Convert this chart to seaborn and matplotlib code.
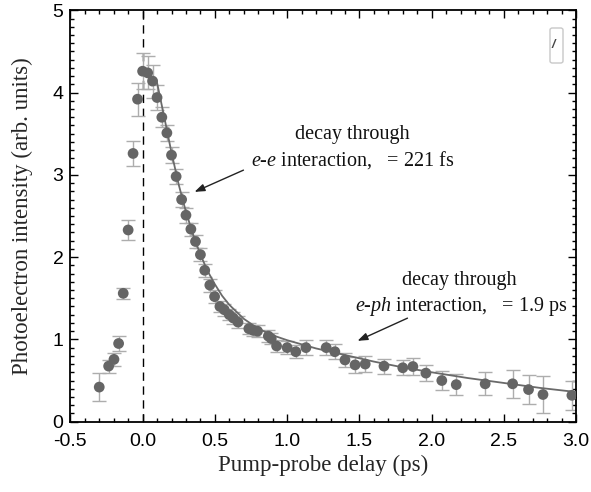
import matplotlib
matplotlib.use("Agg")
import matplotlib.pyplot as plt
from matplotlib.patches import FancyBboxPatch
from matplotlib.ticker import MultipleLocator
import seaborn as sns
import pandas as pd

# measured points: delay (ps), intensity (arb. units), error
delay = [-0.30, -0.235, -0.198, -0.166, -0.134, -0.10, -0.066, -0.035, 0.0, 0.035,
         0.069, 0.10, 0.133, 0.168, 0.20, 0.232, 0.27, 0.30, 0.334, 0.366,
         0.40, 0.43, 0.465, 0.498, 0.535, 0.565, 0.60, 0.627, 0.66, 0.735,
         0.765, 0.795, 0.87, 0.89, 0.927, 1.0, 1.06, 1.13, 1.27, 1.33,
         1.40, 1.47, 1.54, 1.67, 1.80, 1.87, 1.96, 2.07, 2.17, 2.37,
         2.56, 2.67, 2.77, 2.97]
intensity = [0.42, 0.675, 0.757, 0.95, 1.56, 2.33, 3.26, 3.92, 4.26, 4.24,
             4.14, 3.94, 3.70, 3.51, 3.24, 2.98, 2.70, 2.51, 2.34, 2.19,
             2.03, 1.84, 1.66, 1.52, 1.40, 1.36, 1.30, 1.26, 1.21, 1.13,
             1.11, 1.10, 1.04, 1.01, 0.92, 0.90, 0.85, 0.90, 0.90, 0.85,
             0.75, 0.69, 0.70, 0.675, 0.655, 0.67, 0.59, 0.50, 0.45, 0.46,
             0.46, 0.39, 0.33, 0.32]
error = [0.17, 0.08, 0.08, 0.09, 0.07, 0.12, 0.15, 0.20, 0.22, 0.20,
         0.20, 0.15, 0.12, 0.10, 0.10, 0.09, 0.09, 0.09, 0.08, 0.08,
         0.08, 0.08, 0.08, 0.08, 0.07, 0.07, 0.07, 0.07, 0.07, 0.07,
         0.07, 0.07, 0.07, 0.07, 0.07, 0.08, 0.08, 0.09, 0.09, 0.09,
         0.09, 0.10, 0.10, 0.09, 0.09, 0.10, 0.10, 0.12, 0.13, 0.14,
         0.17, 0.18, 0.23, 0.18]

# fitted curve
fit_t = [0.095, 0.10, 0.15, 0.20, 0.25, 0.30, 0.35, 0.40, 0.45, 0.50, 0.55,
         0.60, 0.70, 0.80, 0.90, 1.00, 1.20, 1.40, 1.60, 1.80, 2.00, 2.25,
         2.50, 2.75, 3.00]
fit_y = [4.16, 4.12, 3.70, 3.27, 2.88, 2.55, 2.27, 2.03, 1.83, 1.67, 1.53,
         1.42, 1.25, 1.13, 1.05, 0.99, 0.89, 0.81, 0.73, 0.66, 0.60, 0.53,
         0.47, 0.41, 0.36]

xtick_vals = [-0.5, 0.0, 0.5, 1.0, 1.5, 2.0, 2.5, 3.0]
xtick_labels = ["-0.5", "0.0", "0.5", "1.0", "1.5", "2.0", "2.5", "3.0"]

sns.set_style("ticks")
plt.rcParams['font.family'] = ['Liberation Sans', 'DejaVu Sans']
plt.rcParams['mathtext.fontset'] = 'custom'
plt.rcParams['mathtext.rm'] = 'Liberation Serif'
plt.rcParams['mathtext.it'] = 'Liberation Serif:italic'

df = pd.DataFrame({"delay": delay, "intensity": intensity, "error": error})
fit = pd.DataFrame({"t": fit_t, "y": fit_y})

fig = plt.figure(figsize=(5.91, 4.92), dpi=100)
ax = fig.add_axes([0.119, 0.143, 0.856, 0.836])

ax.axvline(0, color="black", lw=1.0, ls=(0, (6, 4)), zorder=1)
ax.errorbar(df["delay"], df["intensity"], yerr=df["error"], fmt="none",
            ecolor="#adadad", elinewidth=1.0, capsize=5, capthick=1.0, zorder=2)
sns.lineplot(data=fit, x="t", y="y", ax=ax, color="#6a6a6a", lw=1.3, zorder=3)
sns.scatterplot(data=df, x="delay", y="intensity", ax=ax, color="#656565",
                s=60, edgecolor="none", zorder=4)

ax.set_xlim(-0.5, 3.0)
ax.set_ylim(0, 5)
ax.xaxis.set_minor_locator(MultipleLocator(0.1))
ax.yaxis.set_major_locator(MultipleLocator(1))
ax.yaxis.set_minor_locator(MultipleLocator(0.1))
ax.set_xticks(xtick_vals)
ax.set_xticklabels(xtick_labels)
ax.tick_params(which="both", direction="in", top=True, right=True,
               colors="black", labelsize=14, width=1.0)
ax.tick_params(which="major", length=6)
ax.tick_params(axis="x", which="major", pad=8)
ax.tick_params(axis="y", which="major", pad=5)
ax.tick_params(which="minor", length=3)
for sp in ax.spines.values():
    sp.set_linewidth(1.3)
    sp.set_color("black")

ax.set_xlabel("Pump-probe delay (ps)", fontfamily="Liberation Serif",
              fontsize=16.5, labelpad=4)
ax.set_ylabel("Photoelectron intensity (arb. units)", fontfamily="Liberation Serif",
              fontsize=16.5, labelpad=14)

def px(xp, yp):
    return ax.transData.inverted().transform(fig.transFigure.transform((xp / 591, 1 - yp / 492)))

tkw = dict(fontfamily="Liberation Serif", fontsize=14.5, ha="center", va="center", color="#111111")
ax.text(*px(352, 134), "decay through", **tkw)
ax.text(*px(353, 160), "$e$-$e$ interaction,   = 221 fs", **tkw)
ax.text(*px(459, 281), "decay through", **tkw)
ax.text(*px(461, 307), "$e$-$ph$ interaction,   = 1.9 ps", **tkw)

akw = dict(arrowstyle="-|>,head_length=0.6,head_width=0.22", color="#222222", lw=1.0)
ax.annotate("", xy=px(192, 193), xytext=px(246, 169), arrowprops=akw)
ax.annotate("", xy=px(355, 342), xytext=px(410, 317), arrowprops=akw)

# small cut-off box in upper right
box = FancyBboxPatch((550 / 591, 1 - 63 / 492), 13 / 591, 35 / 492,
                     boxstyle="round,pad=0,rounding_size=0.004",
                     transform=fig.transFigure, facecolor="white",
                     edgecolor="#c8c8c8", lw=1.0, zorder=5)
fig.patches.append(box)
fig.text(553 / 591, 1 - 45 / 492, "/", fontsize=9, fontstyle="italic", fontweight="bold",
         color="#444444", ha="center", va="center", zorder=6)

fig.savefig("out.png", dpi=100)
